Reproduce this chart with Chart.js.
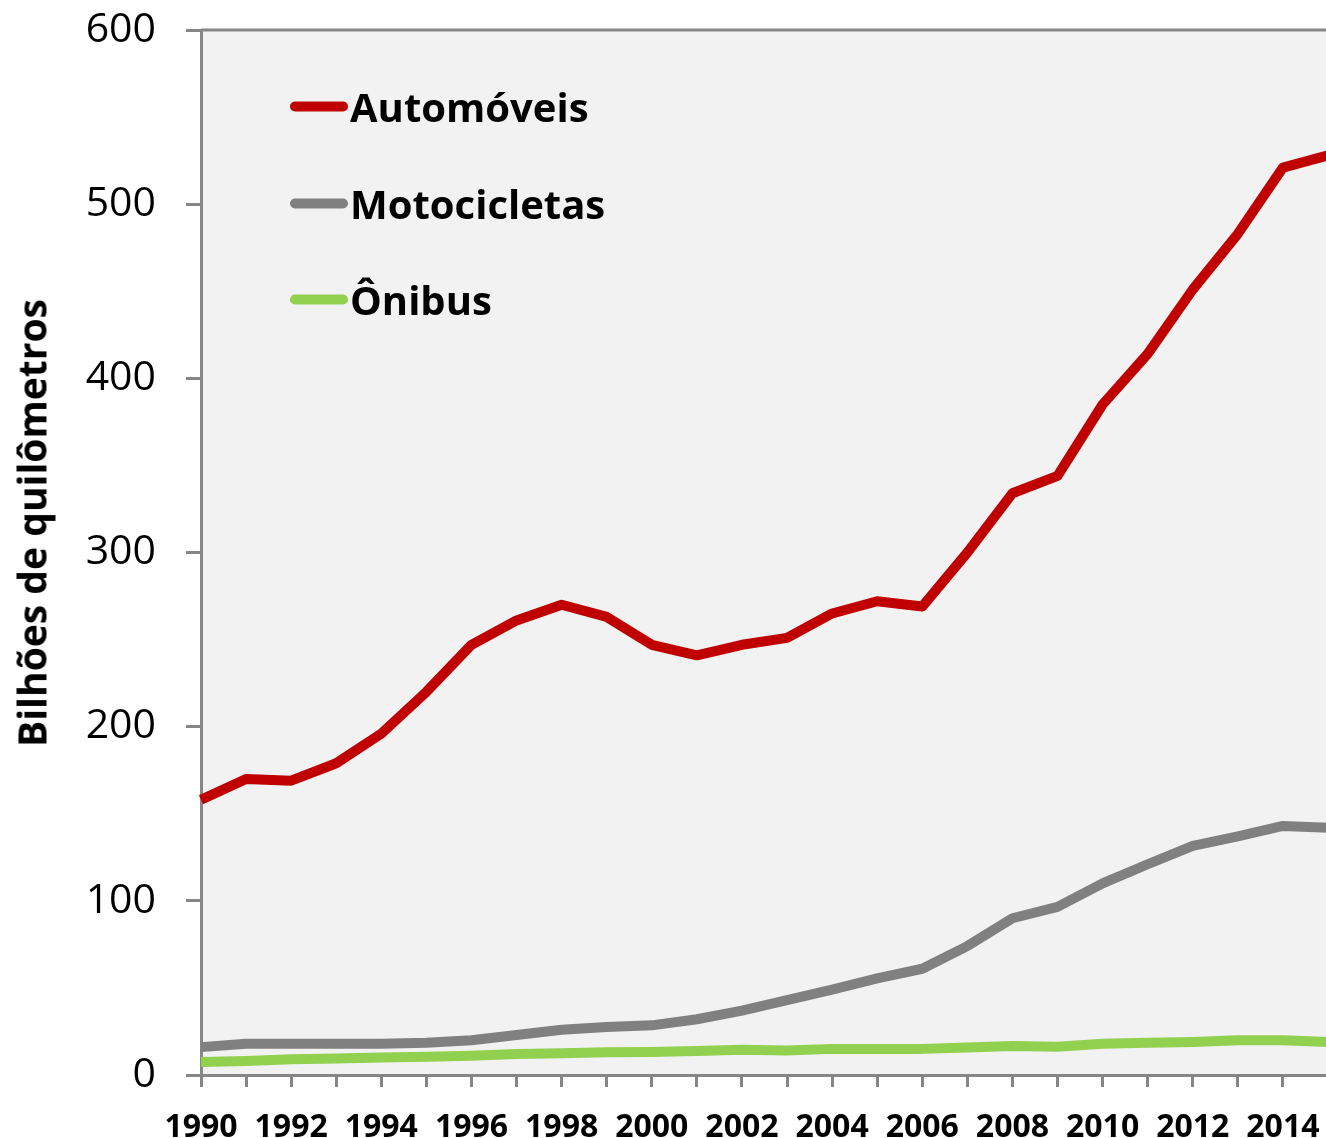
<!DOCTYPE html>
<html lang="pt">
<head>
    <meta charset="UTF-8">
    <title>Bilhões de quilômetros</title>
    <script src="https://cdn.jsdelivr.net/npm/chart.js"></script>
    <style>
        body { margin: 0; overflow: hidden; background: #fff; font-family: "Open Sans", sans-serif; }
        #wrap { position: relative; width: 1340px; height: 1138px; }
        #yTitle {
            position: absolute; left: 31px; top: 523px;
            transform: translate(-50%, -50%) rotate(-90deg);
            white-space: nowrap; font-weight: bold; font-size: 39px; color: #000;
        }
        #legend { position: absolute; left: 290px; top: 0; }
        .item { position: absolute; left: 0; display: flex; align-items: center; white-space: nowrap;
                transform: translateY(-50%); font-weight: bold; font-size: 40px; color: #000; }
        .swatch { width: 58px; height: 10px; border-radius: 5px; margin-right: 2px; }
    </style>
</head>
<body>
<div id="wrap">
    <canvas id="kmChart" width="1340" height="1138"></canvas>
    <div id="yTitle">Bilhões de quilômetros</div>
    <div id="legend"></div>
</div>
<script>
    const years = ['1990','1991','1992','1993','1994','1995','1996','1997','1998','1999','2000','2001','2002',
                   '2003','2004','2005','2006','2007','2008','2009','2010','2011','2012','2013','2014','2015'];
    const automoveis = [158, 170, 169, 179, 196, 220, 247, 261, 270, 263, 247, 241, 247,
                        251, 265, 272, 269, 300, 334, 344, 385, 414, 451, 483, 521, 528];
    const motocicletas = [16, 18, 18, 18, 18, 18.5, 20, 23, 26, 27.5, 28.5, 32, 37,
                          43, 49, 55.5, 61, 74, 90, 96.5, 110, 121, 131.5, 137, 143, 142];
    const onibus = [7.5, 8, 9, 9.5, 10, 10.5, 11, 12, 12.5, 13, 13.2, 13.8, 14.5,
                    14, 15, 15, 15, 15.8, 16.6, 16.2, 18, 18.5, 19, 20, 20, 19];
    const seriesNames = ['Automóveis', 'Motocicletas', 'Ônibus'];
    const seriesColors = ['#C00000', '#808080', '#92D050'];
    const legendRows = [106, 203, 299];

    const axisGray = '#868686';

    // plot area fill and top border, like the original
    const plotBg = {
        id: 'plotBg',
        beforeDraw(chart) {
            const { ctx, chartArea: a } = chart;
            ctx.save();
            ctx.fillStyle = '#f2f2f2';
            ctx.fillRect(a.left, a.top, a.right - a.left, a.bottom - a.top);
            ctx.strokeStyle = axisGray;
            ctx.lineWidth = 3;
            ctx.beginPath();
            ctx.moveTo(a.left, a.top);
            ctx.lineTo(a.right, a.top);
            ctx.stroke();
            ctx.restore();
        }
    };

    // keep the plot area where the original has it
    function noPad(s) {
        s.paddingTop = 0; s.paddingBottom = 0; s.paddingLeft = 0; s.paddingRight = 0;
    }

    const allSeries = [automoveis, motocicletas, onibus];
    const ctx = document.getElementById('kmChart').getContext('2d');
    const kmChart = new Chart(ctx, {
        type: 'line',
        data: {
            labels: years,
            datasets: allSeries.map((d, i) => ({
                label: seriesNames[i],
                data: d,
                borderColor: seriesColors[i],
                backgroundColor: seriesColors[i],
                borderWidth: 10,
                pointRadius: 0,
                tension: 0,
                borderJoinStyle: 'round',
                borderCapStyle: 'butt'
            })).reverse()
        },
        options: {
            responsive: false,
            animation: false,
            layout: { padding: { top: 30, right: 12, left: 0, bottom: 0 } },
            plugins: { legend: { display: false }, tooltip: { enabled: false } },
            scales: {
                x: {
                    ticks: {
                        autoSkip: false, maxRotation: 0, padding: 22, color: '#000',
                        font: { family: 'Open Sans', size: 32, weight: 'bold' },
                        callback: (v, i) => (i % 2 === 0 ? years[i] : '')
                    },
                    grid: { drawOnChartArea: false, tickLength: 12, color: axisGray, lineWidth: 3 },
                    border: { color: axisGray, width: 3 },
                    afterFit: s => { s.height = 63; noPad(s); }
                },
                y: {
                    min: 0, max: 600,
                    ticks: { stepSize: 100, padding: 30, color: '#000',
                             font: { family: 'Open Sans', size: 41 } },
                    grid: { drawOnChartArea: false, tickLength: 15, color: axisGray, lineWidth: 3 },
                    border: { color: axisGray, width: 3 },
                    afterFit: s => { s.width = 201; noPad(s); }
                }
            }
        },
        plugins: [plotBg]
    });

    const legend = document.getElementById('legend');
    seriesNames.forEach((name, i) => {
        const row = document.createElement('div');
        row.className = 'item';
        row.style.top = legendRows[i] + 'px';
        row.innerHTML = `<span class="swatch" style="background:${seriesColors[i]}"></span>${name}`;
        legend.appendChild(row);
    });
</script>
</body>
</html>
